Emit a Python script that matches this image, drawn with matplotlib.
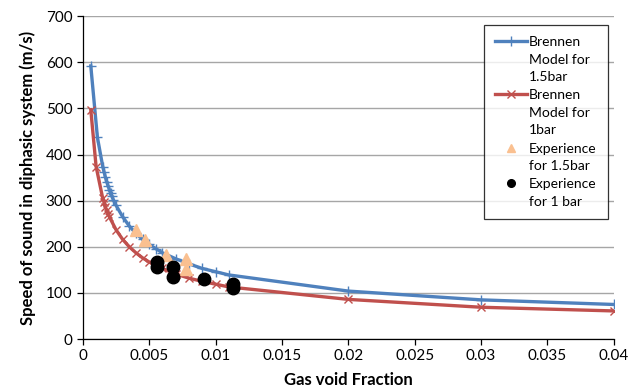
import numpy as np
import matplotlib
matplotlib.use("Agg")
import matplotlib.pyplot as plt

plt.rcParams['font.family'] = ['Lato', 'DejaVu Sans']

# Brennen model, 1.5 bar
a_15 = [0.0006, 0.0011, 0.0015, 0.0016, 0.0017, 0.0018, 0.0019, 0.002, 0.0021,
        0.0022, 0.0023, 0.0025, 0.003, 0.0035, 0.004, 0.0045, 0.005, 0.0055,
        0.006, 0.007, 0.008, 0.009, 0.01, 0.011, 0.02, 0.03, 0.04]
c_15 = [592, 437, 374, 362, 351, 341, 332, 324, 316, 309, 302, 290, 265, 245,
        229, 216, 205, 196, 187, 174, 163, 153, 146, 139, 104, 85, 75]

# Brennen model, 1 bar
a_1 = [0.0006, 0.001, 0.0015, 0.0016, 0.0017, 0.0018, 0.0019, 0.002, 0.0025,
       0.003, 0.0035, 0.004, 0.0045, 0.005, 0.0055, 0.006, 0.007, 0.008,
       0.009, 0.01, 0.011, 0.02, 0.03, 0.04]
c_1 = [497, 374, 305, 296, 287, 279, 272, 265, 237, 216, 200, 187, 176, 167,
       160, 153, 141, 132, 125, 119, 113, 86, 69, 61]

# experiments
exp_a_15 = [0.0040, 0.0047, 0.0063, 0.0078, 0.0078]
exp_c_15 = [236, 215, 182, 173, 152]
exp_a_1 = [0.0056, 0.0056, 0.0068, 0.0068, 0.0091, 0.0113, 0.0113]
exp_c_1 = [167, 156, 156, 134, 130, 120, 110]

xticks = [0, 0.005, 0.01, 0.015, 0.02, 0.025, 0.03, 0.035, 0.04]
xlabels = ['0', '0.005', '0.01', '0.015', '0.02', '0.025', '0.03', '0.035', '0.04']
yticks = [0, 100, 200, 300, 400, 500, 600, 700]

fig = plt.figure(figsize=(6.42, 3.92), dpi=100)
ax = fig.add_axes([0.129, 0.135, 0.827, 0.824])

ax.plot(a_15, c_15, color='#4F81BD', lw=2.4, marker='+', ms=7, mew=1.0,
        label='Brennen\nModel for\n1.5bar', zorder=3)
ax.plot(a_1, c_1, color='#C0504D', lw=2.4, marker='x', ms=5.5, mew=1.0,
        label='Brennen\nModel for\n1bar', zorder=3)
ax.plot(exp_a_15, exp_c_15, ls='none', marker='^', ms=8, color='#FAC090',
        label='Experience\nfor 1.5bar', zorder=4)
ax.plot(exp_a_1, exp_c_1, ls='none', marker='o', ms=9, color='black',
        label='Experience\nfor 1 bar', zorder=5)

ax.set_xlim(0, 0.04)
ax.set_ylim(0, 700)
ax.set_xticks(xticks)
ax.set_xticklabels(xlabels)
ax.set_yticks(yticks)
ax.yaxis.grid(True, color='#a6a6a6', lw=1.0)
ax.set_axisbelow(True)
for s in ['top', 'right']:
    ax.spines[s].set_visible(False)
for s in ['left', 'bottom']:
    ax.spines[s].set_color('black')
    ax.spines[s].set_linewidth(0.9)
ax.tick_params(axis='both', labelsize=11, length=4, width=0.9, direction='out')

ax.set_xlabel('Gas void Fraction', fontsize=12, fontweight='bold', labelpad=6)
ax.set_ylabel('Speed of sound in diphasic system (m/s)', fontsize=12,
              fontweight='bold', labelpad=7)

leg = ax.legend(loc='upper left', bbox_to_anchor=(0.755, 0.972),
                borderaxespad=0, fontsize=10, frameon=True, fancybox=False,
                edgecolor='black', handlelength=2.3, handletextpad=0.15,
                labelspacing=0.45, borderpad=0.8)
leg.get_frame().set_linewidth(0.9)
for t in leg.get_texts():
    t.set_linespacing(1.55)
# smaller symbols for the experiment entries
leg.legend_handles[2].set_markersize(5.5)
leg.legend_handles[3].set_markersize(5.5)
# put each handle next to the first line of its label
for col in leg._legend_handle_box.get_children():
    for item in col.get_children():
        item.align = 'top'

fig.savefig('out.png', dpi=100)
